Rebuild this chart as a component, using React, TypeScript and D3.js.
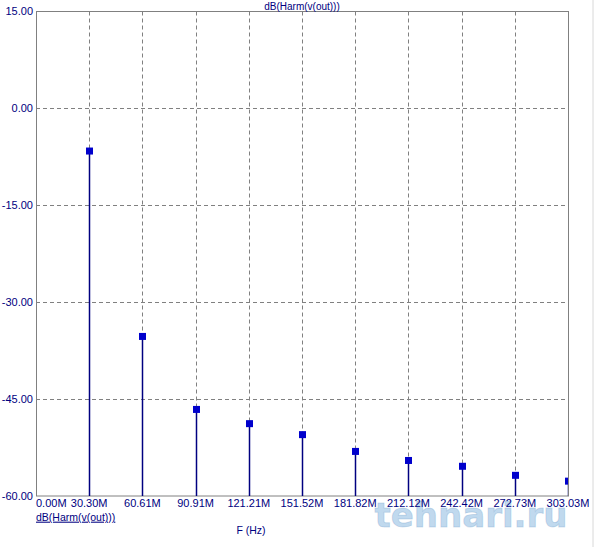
import React from "react";
import * as d3 from "d3";

const freqsM = [30.3, 60.61, 90.91, 121.21, 151.52, 181.82, 212.12, 242.42, 272.73, 303.03];
const dbValues = [-6.6, -35.3, -46.6, -48.8, -50.5, -53.1, -54.5, -55.4, -56.8, -57.7];
const xTickValues = [0, 30.3, 60.61, 90.91, 121.21, 151.52, 181.82, 212.12, 242.42, 272.73, 303.03];
const yTickValues = [15, 0, -15, -30, -45, -60];

const W = 596;
const H = 547;
const L = 36, R = 568, T = 11.5, B = 496;
const NAVY = "#000080";
const FONT = "Arial, 'Liberation Sans', sans-serif";

export default function App() {
  const x = d3.scaleLinear().domain([0, 303.03]).range([L, R]);
  const y = d3.scaleLinear().domain([-60, 15]).range([B, T]);
  return (
    <div style={{ position: "fixed", left: 0, top: 0 }}>
      <svg width={W} height={H} style={{ display: "block", background: "#fff" }}>
        <defs>
          <clipPath id="plotclip">
            <rect x={L} y={T} width={R - L} height={B - T} />
          </clipPath>
        </defs>
        <rect x={0} y={0} width={W} height={H} fill="#fff" />
        <line x1={593} x2={593} y1={0} y2={H} stroke="#d8d8d8" strokeWidth={1} />
        {/* grid */}
        {xTickValues.slice(1, -1).map((v, i) => (
          <line key={"gx" + i} x1={Math.round(x(v)) + 0.5} x2={Math.round(x(v)) + 0.5} y1={T} y2={B}
            stroke="#808080" strokeWidth={1} strokeDasharray="4,3" />
        ))}
        {yTickValues.slice(1, -1).map((v, i) => (
          <line key={"gy" + i} x1={L} x2={R} y1={Math.round(y(v)) + 0.5} y2={Math.round(y(v)) + 0.5}
            stroke="#808080" strokeWidth={1} strokeDasharray="4,3" />
        ))}
        {/* frame */}
        <rect x={L + 0.5} y={T} width={R - L} height={B - T} fill="none" stroke="#808080" strokeWidth={1} />
        {/* watermark */}
        <text x={471} y={527} textAnchor="middle" fontFamily="'DejaVu Sans', sans-serif" fontWeight="bold" fontSize={34}
          fill="#8ab8e0" fillOpacity={0.55} stroke="#5a8fc0" strokeOpacity={0.25} strokeWidth={1}>
          tehnari.ru
        </text>
        {/* stems and markers */}
        <g clipPath="url(#plotclip)">
          {freqsM.map((f, i) => (
            <line key={"s" + i} x1={Math.round(x(f)) + 0.5} x2={Math.round(x(f)) + 0.5} y1={B} y2={y(dbValues[i])}
              stroke={NAVY} strokeWidth={1.5} />
          ))}
          {freqsM.map((f, i) => (
            <rect key={"m" + i} x={Math.round(x(f)) + 0.5 - 3.5} y={y(dbValues[i]) - 3.5} width={7} height={7} fill="#0000cc" />
          ))}
        </g>
        {/* y tick labels */}
        {yTickValues.map((v, i) => (
          <text key={"yl" + i} x={33} y={y(v)} dy="0.35em" textAnchor="end" fontFamily={FONT} fontSize={11} fill={NAVY}>
            {v.toFixed(2)}
          </text>
        ))}
        {/* x tick labels */}
        {xTickValues.map((v, i) => (
          <text key={"xl" + i} x={i === 0 ? L : x(v)} y={503} dy="0.35em" textAnchor={i === 0 ? "start" : "middle"}
            fontFamily={FONT} fontSize={11} fill={NAVY}>
            {v.toFixed(2) + "M"}
          </text>
        ))}
        {/* titles */}
        <text x={(L + R) / 2} y={6} dy="0.35em" textAnchor="middle" fontFamily={FONT} fontSize={10} fill={NAVY}>
          dB(Harm(v(out)))
        </text>
        <text x={L} y={517} dy="0.35em" textAnchor="start" fontFamily={FONT} fontSize={10.5} fill={NAVY}
          textDecoration="underline">
          dB(Harm(v(out)))
        </text>
        <text x={251} y={530} dy="0.35em" textAnchor="middle" fontFamily={FONT} fontSize={10.5} fill={NAVY}>
          F (Hz)
        </text>
      </svg>
    </div>
  );
}
